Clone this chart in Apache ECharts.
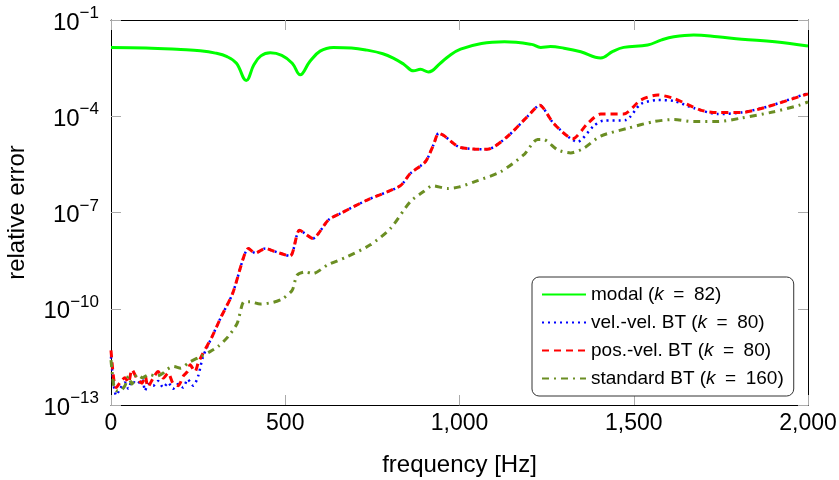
<!DOCTYPE html>
<html>
<head>
<meta charset="utf-8">
<script src="https://cdn.jsdelivr.net/npm/echarts@6/dist/echarts.min.js"></script>
<style>
  html, body { margin: 0; padding: 0; background: #fff; }
  #main { width: 839px; height: 480px; }
</style>
</head>
<body>
<div id="main"></div>
<script>
// frequencies [Hz] and relative errors
const modalHz = [0, 100, 200, 256, 300, 333, 360, 388, 410, 430, 457, 490, 520, 543, 570, 600, 638, 690, 735, 780, 810, 840, 868, 888, 911, 945, 970, 1003, 1063, 1129, 1207, 1233, 1261, 1300, 1348, 1405, 1440, 1471, 1540, 1580, 1615, 1672, 1740, 1810, 1905, 2000]
const modalErr = [1.4e-2, 1.35e-2, 1.2e-2, 1.1e-2, 9.3e-3, 7.2e-3, 4.5e-3, 1.3e-3, 4.0e-3, 7.6e-3, 9.5e-3, 7.9e-3, 4.5e-3, 1.95e-3, 5.0e-3, 1.07e-2, 1.4e-2, 1.35e-2, 1.15e-2, 8.9e-3, 6.5e-3, 4.2e-3, 2.6e-3, 2.9e-3, 2.4e-3, 4.5e-3, 7.6e-3, 1.23e-2, 1.86e-2, 2.1e-2, 1.74e-2, 1.4e-2, 1.5e-2, 1.32e-2, 1.02e-2, 6.5e-3, 1.05e-2, 1.4e-2, 1.66e-2, 2.4e-2, 3.0e-2, 3.4e-2, 3.0e-2, 2.5e-2, 2.1e-2, 1.55e-2]

const velHz = [0, 8, 15, 26, 40, 50, 60, 74, 89, 98, 106, 121, 135, 150, 164, 178, 193, 207, 220, 236, 250, 264, 290, 316, 349, 381, 394, 414, 443, 466, 514, 541, 580, 595, 624, 658, 735, 830, 859, 902, 925, 940, 955, 997, 1040, 1080, 1137, 1195, 1230, 1270, 1339, 1385, 1411, 1477, 1520, 1569, 1615, 1672, 1741, 1807, 1885, 1989, 2000]
const velErr = [3.2e-12, 4.0e-13, 2.0e-13, 3.2e-13, 5.0e-13, 3.2e-13, 5.6e-13, 4.5e-13, 6.3e-13, 2.8e-13, 4.5e-13, 4.0e-13, 5.6e-13, 3.5e-13, 5.0e-13, 3.2e-13, 4.5e-13, 3.5e-13, 6.3e-13, 4.0e-13, 7.9e-13, 3.2e-12, 1.35e-11, 5.6e-11, 3.0e-10, 4.2e-9, 7.6e-9, 5.4e-9, 7.6e-9, 6.3e-9, 4.4e-9, 2.8e-8, 1.55e-8, 2.2e-8, 5.9e-8, 9.3e-8, 2.45e-7, 6.8e-7, 1.66e-6, 3.8e-6, 1.26e-5, 2.95e-5, 2.5e-5, 1.12e-5, 9.5e-6, 9.3e-6, 2.3e-5, 9.8e-5, 2.2e-4, 6.0e-5, 1.6e-5, 5.0e-5, 7.2e-5, 7.6e-5, 2.4e-4, 3.2e-4, 3.0e-4, 1.8e-4, 1.17e-4, 1.3e-4, 2.0e-4, 4.8e-4, 5.0e-4]

const posHz = [0, 8, 15, 26, 40, 50, 60, 74, 89, 98, 106, 121, 135, 150, 164, 178, 193, 207, 220, 227, 241, 250, 264, 290, 316, 349, 381, 394, 414, 443, 466, 514, 541, 580, 595, 624, 658, 735, 830, 859, 902, 925, 940, 955, 997, 1040, 1080, 1137, 1195, 1230, 1270, 1325, 1368, 1405, 1471, 1520, 1569, 1615, 1692, 1741, 1807, 1885, 1989, 2000]
const posErr = [5.0e-12, 6.3e-13, 3.5e-13, 5.0e-13, 7.1e-13, 5.0e-13, 1.26e-12, 6.9e-13, 4.8e-13, 7.9e-13, 3.7e-13, 6.9e-13, 1.1e-12, 6.9e-13, 1.0e-12, 4.7e-13, 4.0e-13, 7.9e-13, 1.12e-12, 1.8e-12, 1.1e-12, 2.0e-12, 4.1e-12, 1.35e-11, 5.6e-11, 3.0e-10, 4.2e-9, 7.6e-9, 5.4e-9, 7.6e-9, 6.3e-9, 4.4e-9, 2.8e-8, 1.55e-8, 2.2e-8, 5.9e-8, 9.3e-8, 2.45e-7, 6.8e-7, 1.66e-6, 3.8e-6, 1.26e-5, 2.95e-5, 2.5e-5, 1.12e-5, 9.5e-6, 9.3e-6, 2.3e-5, 9.8e-5, 2.2e-4, 6.0e-5, 2.0e-5, 6.0e-5, 1.17e-4, 1.17e-4, 3.2e-4, 4.6e-4, 3.6e-4, 1.55e-4, 1.3e-4, 1.3e-4, 2.0e-4, 4.6e-4, 5.0e-4]

const stdHz = [0, 8, 15, 26, 40, 50, 60, 75, 90, 110, 130, 150, 161, 180, 200, 223, 256, 284, 307, 336, 362, 382, 399, 428, 466, 494, 520, 534, 557, 580, 621, 678, 744, 802, 859, 897, 922, 966, 1000, 1054, 1118, 1184, 1224, 1240, 1282, 1319, 1356, 1405, 1482, 1557, 1615, 1672, 1741, 1807, 1902, 1974, 2000]
const stdErr = [2.5e-12, 4.0e-13, 2.8e-13, 2.8e-13, 4.0e-13, 7.9e-13, 4.5e-13, 8.9e-13, 7.1e-13, 8.9e-13, 7.9e-13, 1.0e-12, 1.3e-12, 1.6e-12, 1.4e-12, 2.1e-12, 3.2e-12, 4.6e-12, 6.6e-12, 1.35e-11, 3.5e-11, 1.66e-10, 1.66e-10, 1.4e-10, 1.6e-10, 2.1e-10, 3.8e-10, 1.12e-9, 1.4e-9, 1.26e-9, 2.3e-9, 4.2e-9, 9.8e-9, 3.2e-8, 2.2e-7, 4.5e-7, 6.8e-7, 5.6e-7, 6.3e-7, 1.0e-6, 1.86e-6, 6.2e-6, 1.9e-5, 1.9e-5, 8.9e-6, 7.2e-6, 1.0e-5, 2.4e-5, 4.2e-5, 6.8e-5, 7.9e-5, 6.8e-5, 6.8e-5, 8.7e-5, 1.38e-4, 2.2e-4, 2.8e-4]

const names = ['modal (k = 82)', 'vel.-vel. BT (k = 80)', 'pos.-vel. BT (k = 80)', 'standard BT (k = 160)']

const font = 'Liberation Sans'
const zip = (xs, ys) => xs.map((x, i) => [x, ys[i]])

const chart = echarts.init(document.getElementById('main'))

const frameX = {
  type: 'value',
  min: 0,
  max: 2000,
  interval: 500,
  axisLine: { show: true, onZero: false, lineStyle: { color: '#000', width: 1 } },
  axisTick: { show: true, inside: true, length: 10, lineStyle: { color: '#aaa' } },
  splitLine: { show: false }
}
const frameY = {
  type: 'log',
  logBase: 10,
  min: 1e-13,
  max: 1e-1,
  interval: 3,
  axisLine: { show: true, onZero: false, lineStyle: { color: '#000', width: 1 } },
  axisTick: { show: true, inside: true, length: 10, lineStyle: { color: '#aaa' } },
  splitLine: { show: false },
  minorTick: { show: false }
}

const option = {
  animation: false,
  grid: { left: 111, right: 31, top: 20, bottom: 75, outerBoundsMode: 'none' },
  xAxis: [
    {
      ...frameX,
      position: 'bottom',
      name: 'frequency [Hz]',
      nameLocation: 'middle',
      nameGap: 48,
      nameTextStyle: { fontFamily: font, fontSize: 24, color: '#000' },
      axisLabel: {
        margin: 7,
        fontFamily: font,
        fontSize: 23,
        color: '#000',
        formatter: v => v.toLocaleString('en-US')
      }
    },
    { ...frameX, position: 'top', axisLabel: { show: false } }
  ],
  yAxis: [
    {
      ...frameY,
      position: 'left',
      name: 'relative error',
      nameLocation: 'middle',
      nameGap: 82,
      nameTextStyle: { fontFamily: font, fontSize: 24, color: '#000' },
      axisLabel: {
        margin: 12,
        color: '#000',
        formatter: v => '{b|10}{s|\u2212' + Math.abs(Math.round(Math.log10(v))) + '}',
        rich: {
          b: { fontFamily: font, fontSize: 24, lineHeight: 30, verticalAlign: 'bottom', color: '#000' },
          s: { fontFamily: font, fontSize: 17, lineHeight: 18, verticalAlign: 'top', color: '#000' }
        }
      }
    },
    { ...frameY, position: 'right', axisLabel: { show: false } }
  ],
  legend: {
    orient: 'vertical',
    left: 532,
    top: 277,
    padding: [8, 10, 8, 9],
    itemGap: 9,
    itemWidth: 44,
    itemHeight: 18,
    backgroundColor: '#fff',
    borderColor: '#333',
    borderWidth: 1,
    borderRadius: 7,
    itemStyle: { opacity: 0 },
    data: names,
    formatter: name => name.replace('(k = ', '({i|k}\u2002=\u2002'),
    textStyle: {
      fontFamily: font,
      fontSize: 19,
      color: '#000',
      rich: {
        i: { fontFamily: font, fontSize: 19, fontStyle: 'italic', color: '#000' }
      }
    }
  },
  series: [
    {
      name: names[0],
      type: 'line',
      symbol: 'none',
      smooth: 0.4,
      z: 2,
      lineStyle: { color: '#00ff00', width: 3 },
      itemStyle: { color: '#00ff00' },
      data: zip(modalHz, modalErr)
    },
    {
      name: names[1],
      type: 'line',
      symbol: 'none',
      smooth: 0.25,
      z: 3,
      lineStyle: { color: '#0000ff', width: 2.5, type: [2, 4] },
      itemStyle: { color: '#0000ff' },
      data: zip(velHz, velErr)
    },
    {
      name: names[2],
      type: 'line',
      symbol: 'none',
      smooth: 0.25,
      z: 4,
      lineStyle: { color: '#ff0000', width: 3, type: [7, 5] },
      itemStyle: { color: '#ff0000' },
      data: zip(posHz, posErr)
    },
    {
      name: names[3],
      type: 'line',
      symbol: 'none',
      smooth: 0.25,
      z: 5,
      lineStyle: { color: '#6b8e23', width: 3, type: [7, 5, 2, 5] },
      itemStyle: { color: '#6b8e23' },
      data: zip(stdHz, stdErr)
    }
  ]
}

chart.setOption(option)
</script>
</body>
</html>
